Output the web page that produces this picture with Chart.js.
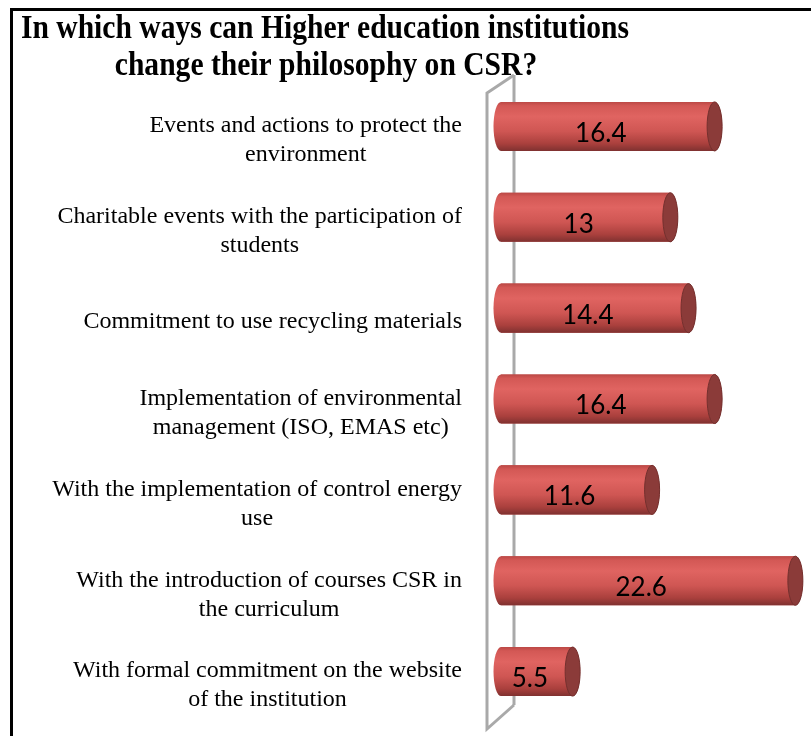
<!DOCTYPE html>
<html>
<head>
<meta charset="utf-8">
<script src="https://cdn.jsdelivr.net/npm/chart.js@4.4.0/dist/chart.umd.min.js"></script>
<style>
  body { margin: 0; background: #fff; }
  canvas { display: block; }
</style>
</head>
<body>
<canvas id="chart" width="811" height="736"></canvas>
<script>
// data
const categories = [
  ['Events and actions to protect the', 'environment'],
  ['Charitable events with the participation of', 'students'],
  ['Commitment to use recycling materials'],
  ['Implementation of environmental', 'management (ISO, EMAS etc)'],
  ['With the implementation of control energy', 'use'],
  ['With the introduction of courses CSR in', 'the curriculum'],
  ['With formal commitment on the website', 'of the institution']
];
const values = [16.4, 13, 14.4, 16.4, 11.6, 22.6, 5.5];
const titleLines = ['In which ways can Higher education institutions', 'change their philosophy on CSR?'];

const labelFont = '24px "Liberation Serif", "Times New Roman", serif';
const valueFont = '26px Lato, "Liberation Sans", sans-serif';

// frame + title
const framePlugin = {
  id: 'frame',
  beforeDraw: function(chart) {
    const ctx = chart.ctx;
    ctx.save();
    ctx.fillStyle = '#fff';
    ctx.fillRect(0, 0, chart.width, chart.height);
    ctx.strokeStyle = '#000';
    ctx.lineWidth = 3;
    ctx.strokeRect(11.5, 9.5, chart.width + 20, chart.height + 20);
    ctx.restore();
  },
  afterDraw: function(chart) {
    const ctx = chart.ctx;
    ctx.save();
    ctx.fillStyle = '#000';
    ctx.font = 'bold 34px "Liberation Serif", "Times New Roman", serif';
    ctx.textAlign = 'center';
    ctx.textBaseline = 'middle';
    const sx = 0.87;
    ctx.scale(sx, 1);
    ctx.fillText(titleLines[0], 325 / sx, 29);
    ctx.fillText(titleLines[1], 326 / sx, 66);
    ctx.restore();
  }
};

// 3d wall lines behind the bars
const wallPlugin = {
  id: 'wall',
  beforeDatasetsDraw: function(chart) {
    const ctx = chart.ctx;
    const area = chart.chartArea;
    const x0 = chart.scales.x.getPixelForValue(0);
    const front = x0 - 14, back = x0 + 13;
    ctx.save();
    ctx.strokeStyle = '#a9a9a9';
    ctx.lineWidth = 3;
    ctx.beginPath();
    ctx.moveTo(back, area.top - 6);
    ctx.lineTo(back, area.bottom - 12);
    ctx.stroke();
    ctx.beginPath();
    ctx.moveTo(back, area.top - 6);
    ctx.lineTo(front, area.top + 12);
    ctx.lineTo(front, area.bottom + 12);
    ctx.lineTo(back, area.bottom - 12);
    ctx.stroke();
    ctx.restore();
  }
};

// cylinders drawn over the library bars + value labels
const cylinderPlugin = {
  id: 'cylinder',
  afterDatasetsDraw: function(chart) {
    const ctx = chart.ctx;
    const meta = chart.getDatasetMeta(0);
    meta.data.forEach(function(bar, i) {
      const h = bar.height;
      const top = bar.y - h / 2, bottom = bar.y + h / 2;
      const rx = 7.5;
      const g = ctx.createLinearGradient(0, top, 0, bottom);
      g.addColorStop(0, '#bb4845');
      g.addColorStop(0.08, '#d35855');
      g.addColorStop(0.3, '#e06461');
      g.addColorStop(0.6, '#cf5653');
      g.addColorStop(0.85, '#aa403d');
      g.addColorStop(1, '#7f3130');
      ctx.save();
      ctx.beginPath();
      ctx.moveTo(bar.base, top);
      ctx.lineTo(bar.x, top);
      ctx.ellipse(bar.x, bar.y, rx, h / 2, 0, -Math.PI / 2, Math.PI / 2);
      ctx.lineTo(bar.base, bottom);
      ctx.ellipse(bar.base, bar.y, rx, h / 2, 0, Math.PI / 2, Math.PI * 1.5);
      ctx.closePath();
      ctx.fillStyle = g;
      ctx.fill();
      ctx.beginPath();
      ctx.ellipse(bar.x, bar.y, rx, h / 2, 0, 0, Math.PI * 2);
      ctx.fillStyle = '#8b3b39';
      ctx.fill();
      ctx.strokeStyle = '#74302e';
      ctx.lineWidth = 1;
      ctx.stroke();
      // value label
      ctx.fillStyle = '#000';
      ctx.font = valueFont;
      ctx.textAlign = 'center';
      ctx.textBaseline = 'middle';
      ctx.fillText(String(values[i]), (bar.base - 14 + bar.x) / 2, bar.y + 7);
      ctx.restore();
    });
  }
};

// category labels: block right aligned, lines centred
const labelPlugin = {
  id: 'labels',
  afterDraw: function(chart) {
    const ctx = chart.ctx;
    const yScale = chart.scales.y;
    const right = yScale.right - 39;
    ctx.save();
    ctx.font = labelFont;
    ctx.fillStyle = '#000';
    ctx.textAlign = 'center';
    ctx.textBaseline = 'middle';
    categories.forEach(function(lines, i) {
      const y = yScale.getPixelForValue(i) + 14;
      let widest = 0;
      lines.forEach(function(l) { widest = Math.max(widest, ctx.measureText(l).width); });
      const cx = right - widest / 2;
      const y0 = y - (lines.length - 1) * 29 / 2;
      lines.forEach(function(l, j) {
        ctx.fillText(l, cx, y0 + j * 29);
      });
    });
    ctx.restore();
  }
};

new Chart(document.getElementById('chart'), {
  type: 'bar',
  data: {
    labels: categories,
    datasets: [{
      data: values,
      backgroundColor: '#c0504d',
      barPercentage: 0.54,
      categoryPercentage: 1
    }]
  },
  options: {
    indexAxis: 'y',
    responsive: false,
    animation: false,
    layout: { padding: { left: 60, right: 0, top: 81, bottom: 19 } },
    plugins: {
      legend: { display: false },
      tooltip: { enabled: false },
      title: { display: false }
    },
    scales: {
      x: { display: false, min: 0, max: 23.8 },
      y: {
        grid: { display: false },
        border: { display: false },
        ticks: { display: false },
        afterFit: function(axis) { axis.width = 441; }
      }
    }
  },
  plugins: [framePlugin, wallPlugin, cylinderPlugin, labelPlugin]
});
</script>
</body>
</html>
